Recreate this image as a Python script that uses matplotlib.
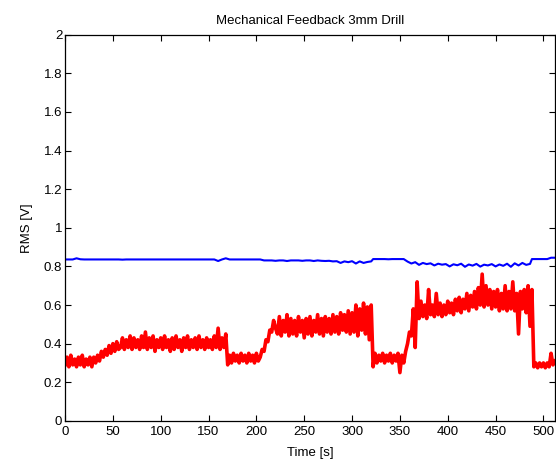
import matplotlib
matplotlib.use('Agg')
import matplotlib.pyplot as plt
import numpy as np

red_segments = [
    (0, [0.29, 0.33, 0.28, 0.34, 0.29, 0.32, 0.28, 0.33, 0.29, 0.34, 0.28, 0.32, 0.29, 0.33, 0.28, 0.33]),
    (32, [0.30, 0.34, 0.31, 0.36, 0.33, 0.37, 0.34, 0.39, 0.35, 0.40, 0.36, 0.41, 0.37]),
    (58, [0.38, 0.43, 0.37, 0.42, 0.38, 0.44, 0.37, 0.43, 0.38, 0.42,
          0.37, 0.44, 0.38, 0.46, 0.37, 0.43, 0.38, 0.44, 0.36, 0.42,
          0.38, 0.43, 0.37, 0.44, 0.38, 0.42, 0.36, 0.43, 0.37, 0.44,
          0.38, 0.42, 0.36, 0.43, 0.38, 0.44, 0.37, 0.42, 0.38, 0.43,
          0.37, 0.44, 0.38, 0.42, 0.37, 0.43, 0.38, 0.42, 0.37, 0.44,
          0.38, 0.48, 0.37, 0.43, 0.38, 0.45]),
    (170, [0.29, 0.34, 0.30, 0.35, 0.31, 0.34, 0.30, 0.35, 0.31, 0.34, 0.30, 0.35, 0.31, 0.34, 0.30, 0.35, 0.31]),
    (204, [0.33, 0.37, 0.36, 0.42, 0.41, 0.47, 0.46, 0.52, 0.48]),
    (222, [0.45, 0.54, 0.44, 0.52, 0.46, 0.55, 0.44, 0.53, 0.45, 0.52,
           0.44, 0.54, 0.46, 0.52, 0.43, 0.53, 0.45, 0.54, 0.44, 0.52,
           0.46, 0.55, 0.45, 0.53, 0.44, 0.54, 0.46, 0.53, 0.45, 0.55,
           0.46, 0.54, 0.45, 0.56, 0.47, 0.55, 0.46, 0.57, 0.45, 0.56,
           0.46, 0.60, 0.44, 0.58, 0.47, 0.61, 0.45, 0.59, 0.42, 0.60]),
    (322, [0.28, 0.35, 0.30, 0.34, 0.31, 0.35, 0.30, 0.34, 0.31, 0.35, 0.30, 0.34, 0.31, 0.35, 0.25, 0.34, 0.30, 0.36]),
    (358, [0.40, 0.46, 0.44, 0.58, 0.38, 0.72]),
    (370, [0.53, 0.62, 0.54, 0.60, 0.53, 0.68, 0.55, 0.60, 0.54, 0.66,
           0.55, 0.61, 0.54, 0.60, 0.55, 0.62, 0.56, 0.61, 0.55, 0.63,
           0.57, 0.64, 0.56, 0.63, 0.58, 0.66, 0.57, 0.65, 0.59, 0.67,
           0.58, 0.69, 0.60, 0.76, 0.59, 0.70, 0.60, 0.68, 0.58, 0.67,
           0.59, 0.68, 0.57, 0.66, 0.58, 0.70, 0.57, 0.67, 0.58, 0.72,
           0.57, 0.66, 0.45, 0.67, 0.58, 0.68, 0.56, 0.70, 0.49, 0.68]),
    (490, [0.28, 0.30, 0.275, 0.30, 0.28, 0.30, 0.275, 0.30, 0.28, 0.35, 0.29, 0.31]),
]
red_step = 2

# blue trace, every 4 s
blue_segments = [
    (0, [0.836, 0.836, 0.836, 0.842, 0.837, 0.836, 0.836, 0.836, 0.836, 0.836,
         0.836, 0.836, 0.836, 0.836, 0.836, 0.835, 0.836, 0.836, 0.836, 0.836,
         0.836, 0.836, 0.836, 0.836, 0.836, 0.836, 0.836, 0.836, 0.836, 0.836,
         0.836, 0.836, 0.836, 0.836, 0.836, 0.836, 0.836, 0.836, 0.836, 0.836,
         0.828, 0.836, 0.842, 0.836, 0.836, 0.836, 0.836, 0.836, 0.836, 0.836,
         0.836, 0.836]),
    (208, [0.831, 0.831, 0.831, 0.829, 0.831, 0.831, 0.828, 0.831, 0.831, 0.831,
           0.829, 0.831, 0.831, 0.828, 0.831, 0.829, 0.828, 0.829, 0.826, 0.827,
           0.818, 0.826, 0.822, 0.827, 0.815, 0.826, 0.818, 0.823, 0.826]),
    (322, [0.838, 0.838, 0.838, 0.838, 0.837, 0.838, 0.838, 0.838, 0.838]),
    (358, [0.825, 0.815, 0.822, 0.808, 0.818, 0.812, 0.816, 0.805, 0.814, 0.809,
           0.812, 0.800, 0.811, 0.806, 0.814, 0.798, 0.810, 0.804, 0.813, 0.799,
           0.809, 0.805, 0.812, 0.800, 0.810, 0.803, 0.814, 0.798, 0.816, 0.805,
           0.818, 0.808, 0.813]),
    (488, [0.838, 0.838, 0.838, 0.838, 0.838, 0.845, 0.845]),
]
blue_step = 4

x_ticks = [0, 50, 100, 150, 200, 250, 300, 350, 400, 450, 500]
y_ticks = [0, 0.2, 0.4, 0.6, 0.8, 1, 1.2, 1.4, 1.6, 1.8, 2]
y_tick_labels = ['0', '0.2', '0.4', '0.6', '0.8', '1', '1.2', '1.4', '1.6', '1.8', '2']


def unpack(segments, step):
    t, v = [], []
    for start, vals in segments:
        t.extend(start + step * i for i in range(len(vals)))
        v.extend(vals)
    return np.array(t, dtype=float), np.array(v)


def main():
    plt.rcParams['font.family'] = ['Liberation Sans', 'DejaVu Sans']
    fig = plt.figure(figsize=(5.56, 4.63), dpi=100)
    ax = fig.add_axes([0.117, 0.091, 0.881, 0.834])

    bt, bv = unpack(blue_segments, blue_step)
    rt, rv = unpack(red_segments, red_step)
    ax.plot(bt, bv, color='#0000ff', lw=1.5)
    # noisy signal drawn thick so the zigzag fills into a band
    ax.plot(rt, rv, color='#ff0000', lw=2.6)

    ax.set_xlim(0, 512)
    ax.set_ylim(0, 2)
    ax.set_xticks(x_ticks)
    ax.set_yticks(y_ticks)
    ax.set_yticklabels(y_tick_labels)
    ax.tick_params(direction='in', top=True, right=True, length=4, width=0.8,
                   labelsize=9.5, pad=2)
    ax.tick_params(axis='x', pad=4)
    for s in ax.spines.values():
        s.set_linewidth(0.9)

    ax.set_title('Mechanical Feedback 3mm Drill', fontsize=9.5, pad=8)
    ax.set_xlabel('Time [s]', fontsize=9.5, labelpad=6)
    ax.set_ylabel('RMS [V]', fontsize=9.5, labelpad=8)

    fig.savefig('out.png', dpi=100)


if __name__ == '__main__':
    main()
